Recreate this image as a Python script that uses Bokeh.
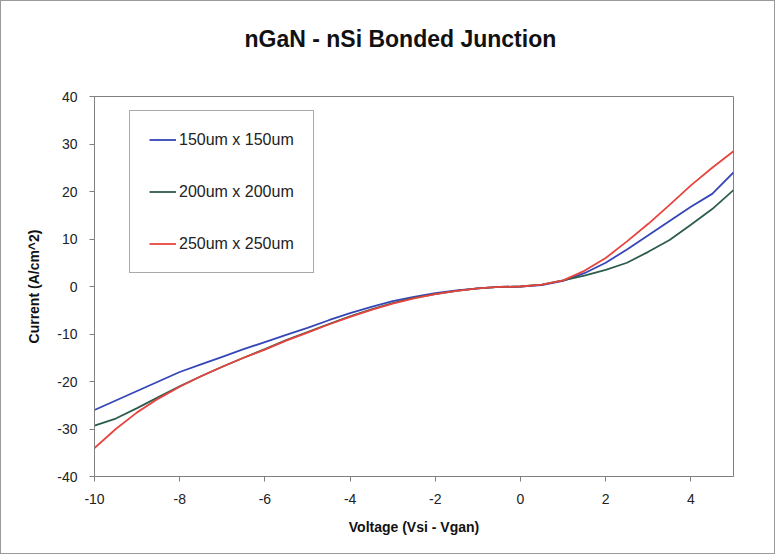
from bokeh.plotting import figure
from bokeh.models import Range1d, FixedTicker, Legend, LegendItem, Title
from bokeh.embed import file_html
from bokeh.resources import INLINE

voltage = [-10, -9.5, -9, -8.5, -8, -7.5, -7, -6.5, -6, -5.5, -5, -4.5, -4, -3.5, -3, -2.5,
           -2, -1.5, -1, -0.5, 0, 0.5, 1, 1.5, 2, 2.5, 3, 3.5, 4, 4.5, 5]

cur_150 = [-26.0, -24.0, -22.0, -20.0, -18.0, -16.4, -14.8, -13.2, -11.7, -10.2, -8.7, -7.1,
           -5.6, -4.3, -3.1, -2.2, -1.4, -0.8, -0.4, -0.1, 0.0, 0.3, 1.2, 2.8, 5.0, 7.8,
           10.8, 13.8, 16.8, 19.5, 24.0]
cur_200 = [-29.3, -27.8, -25.6, -23.3, -21.0, -18.9, -16.9, -15.0, -13.2, -11.3, -9.6, -7.9,
           -6.3, -4.8, -3.5, -2.4, -1.6, -0.9, -0.4, -0.1, 0.0, 0.4, 1.3, 2.3, 3.5, 5.0,
           7.3, 9.8, 13.0, 16.3, 20.3]
cur_250 = [-34.0, -30.0, -26.5, -23.6, -21.1, -18.9, -16.9, -15.0, -13.3, -11.4, -9.7, -8.0,
           -6.4, -4.9, -3.6, -2.5, -1.6, -0.9, -0.4, -0.1, 0.0, 0.4, 1.3, 3.3, 6.0, 9.5,
           13.2, 17.2, 21.3, 25.0, 28.5]

series_names = ["150um x 150um", "200um x 200um", "250um x 250um"]
series_colors = ["#3546b8", "#2e5c4c", "#e8443e"]
x_ticks = [-10, -8, -6, -4, -2, 0, 2, 4]
y_ticks = [-40, -30, -20, -10, 0, 10, 20, 30, 40]

FONT = "Liberation Sans"

p = figure(width=775, height=554, output_backend="svg", toolbar_location=None,
           x_range=Range1d(-10, 5), y_range=Range1d(-40, 40),
           min_border_left=93, min_border_right=43, min_border_top=95, min_border_bottom=79)
p.background_fill_color = "white"
p.border_fill_color = "white"
p.outline_line_color = "#808080"
p.outline_line_width = 1
p.grid.visible = False

p.title.text = "nGaN - nSi Bonded Junction"
p.title.align = "left"
p.title.vertical_align = "bottom"
p.title.text_font = FONT
p.title.text_font_style = "bold"
p.title.text_font_size = "23px"
p.title.text_color = "#111111"
p.title.offset = 150
p.title.standoff = 10

# empty spacer between the title and the plot frame
p.add_layout(Title(text=" ", text_font=FONT, text_font_size="10px", standoff=27), "above")

for ax in (p.xaxis[0], p.yaxis[0]):
    ax.axis_line_color = "#808080"
    ax.major_tick_line_color = "#808080"
    ax.major_tick_out = 5
    ax.major_tick_in = 0
    ax.minor_tick_line_color = None
    ax.major_label_text_font = FONT
    ax.major_label_text_font_size = "14px"
    ax.major_label_text_color = "#222222"
    ax.axis_label_text_font = FONT
    ax.axis_label_text_font_style = "bold"
    ax.axis_label_text_font_size = "14px"
    ax.axis_label_text_color = "#111111"

p.xaxis[0].ticker = FixedTicker(ticks=x_ticks)
p.yaxis[0].ticker = FixedTicker(ticks=y_ticks)
p.xaxis[0].major_label_overrides = {t: str(t) for t in x_ticks}
p.yaxis[0].major_label_overrides = {t: str(t) for t in y_ticks}
p.xaxis[0].axis_label = "Voltage (Vsi - Vgan)"
p.yaxis[0].axis_label = "Current (A/cm^2)"
p.xaxis[0].major_label_standoff = 12
p.yaxis[0].major_label_standoff = 12
p.xaxis[0].axis_label_standoff = 12
p.yaxis[0].axis_label_standoff = 12

renderers = []
for ys, c in zip([cur_150, cur_200, cur_250], series_colors):
    r = p.line(voltage, ys, line_color=c, line_width=1.8)
    renderers.append(r)

legend = Legend(items=[LegendItem(label=n, renderers=[r]) for n, r in zip(series_names, renderers)],
                location=(35, 203))
legend.label_text_font = FONT
legend.label_text_font_size = "16px"
legend.label_text_color = "#222222"
legend.glyph_width = 27
legend.glyph_height = 19
legend.label_height = 19
legend.label_standoff = 3
legend.spacing = 33
legend.padding = 19
legend.margin = 0
legend.border_line_color = "#555555"
legend.border_line_width = 1
legend.background_fill_alpha = 1
p.add_layout(legend)

p.styles = {"border": "1px solid #9a9a9a", "box-sizing": "border-box"}

open("out.html", "w").write(file_html(p, INLINE))
